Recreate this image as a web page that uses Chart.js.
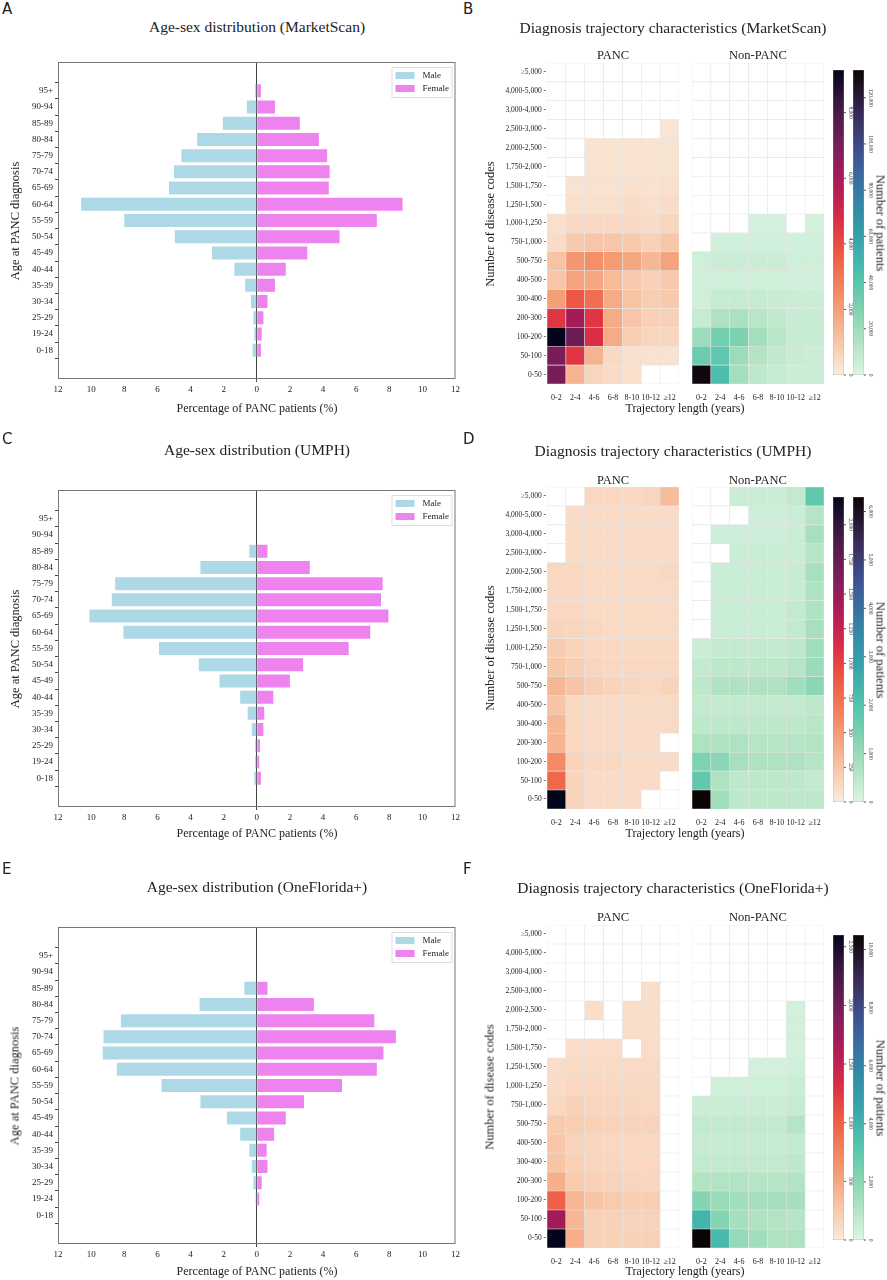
<!DOCTYPE html>
<html><head><meta charset="utf-8">
<script src="https://cdn.jsdelivr.net/npm/chart.js@4"></script>
<style>
body{margin:0;background:#fff;width:887px;height:1280px;position:relative;overflow:hidden;font-family:"Liberation Serif",serif;color:#222}
canvas{position:absolute}
.t{position:absolute;transform:translate(-50%,-50%);white-space:nowrap}
.L{position:absolute;font-family:"DejaVu Sans",sans-serif;font-size:15px}
.rot{transform:translate(-50%,-50%) rotate(-90deg)}
.rot2{transform:translate(-50%,-50%) rotate(90deg)}
</style></head><body>
<script>
// ---------------- DATA ----------------
const ageGroups = ['0-18','19-24','25-29','30-34','35-39','40-44','45-49','50-54','55-59','60-64','65-69','70-74','75-79','80-84','85-89','90-94','95+'];
const msMale   = [0.25,0.15,0.2,0.35,0.7,1.35,2.7,4.95,8.0,10.6,5.3,5.0,4.55,3.6,2.05,0.6,0.1];
const msFemale = [0.25,0.3,0.4,0.65,1.1,1.75,3.05,5.0,7.25,8.8,4.35,4.4,4.25,3.75,2.6,1.1,0.25];
const umMale   = [0.15,0.1,0.1,0.3,0.55,1.0,2.25,3.5,5.9,8.05,10.1,8.75,8.55,3.4,0.45,0,0];
const umFemale = [0.25,0.15,0.2,0.4,0.45,1.0,2.0,2.8,5.55,6.85,7.95,7.5,7.6,3.2,0.65,0,0];
const ofMale   = [0,0.07,0.2,0.3,0.45,1.0,1.8,3.4,5.75,8.45,9.3,9.25,8.2,3.45,0.75,0,0];
const ofFemale = [0,0.15,0.3,0.65,0.6,1.05,1.75,2.85,5.15,7.25,7.65,8.4,7.1,3.45,0.65,0,0];
const pctTicks = [-12,-10,-8,-6,-4,-2,0,2,4,6,8,10,12];

const trajBins = ['0-2','2-4','4-6','6-8','8-10','10-12','≥12'];
const codeBins = ['0-50','50-100','100-200','200-300','300-400','400-500','500-750','750-1,000','1,000-1,250','1,250-1,500','1,500-1,750','1,750-2,000','2,000-2,500','2,500-3,000','3,000-4,000','4,000-5,000','≥5,000'];
const _ = null;
// rows bottom (0-50) to top (>=5000); columns = trajBins
const msPanc = [
 [7000,1500,600,400,300,_,_],[7000,4500,1500,500,300,250,250],[9300,7300,4700,1700,800,600,600],
 [4500,6000,4500,1700,1000,700,700],[2000,3800,3200,1700,1100,800,900],[1000,1900,1800,1300,900,700,900],
 [1100,2200,2400,2100,1800,1400,1900],[400,900,1000,1000,900,700,1000],[300,500,500,500,500,400,600],
 [_,300,300,300,400,300,400],[_,250,250,250,300,250,300],[_,_,200,200,200,200,200],[_,_,200,200,200,200,200],
 [_,_,_,_,_,_,150],[_,_,_,_,_,_,_],[_,_,_,_,_,_,_],[_,_,_,_,_,_,_]];
const msNon = [
 [130000,45000,18000,10000,8000,6000,6000],[35000,38000,20000,13000,9000,7000,6000],[20000,32000,30000,18000,12000,8000,8000],
 [8000,15000,16000,12000,9000,7000,7000],[5000,8000,8000,8000,7000,6000,6000],[4000,5000,5000,5000,5000,4000,4000],
 [5000,6000,6000,6000,6000,5000,5000],[_,4000,4000,4000,4000,4000,4000],[_,_,_,3000,3000,_,3000],
 [_,_,_,_,_,_,_],[_,_,_,_,_,_,_],[_,_,_,_,_,_,_],[_,_,_,_,_,_,_],[_,_,_,_,_,_,_],[_,_,_,_,_,_,_],[_,_,_,_,_,_,_],[_,_,_,_,_,_,_]];
const umPanc = [
 [2200,150,100,100,100,_,_],[800,150,100,100,100,100,_],[600,150,120,120,100,100,100],
 [350,130,100,100,100,100,_],[330,120,100,100,100,100,110],[250,120,100,100,100,100,110],
 [330,250,180,150,140,130,150],[230,180,140,130,130,120,130],[200,160,130,130,120,120,120],
 [150,140,120,110,110,110,110],[130,130,110,110,110,110,110],[120,120,110,100,100,100,110],
 [130,130,110,110,110,110,120],[_,110,100,100,100,100,100],[_,110,100,100,100,100,100],
 [_,100,100,100,100,100,100],[_,_,130,130,130,140,300]];
const umNon = [
 [6300,900,500,500,500,500,500],[1800,700,500,500,500,500,400],[1400,1200,800,700,700,700,600],
 [700,700,700,600,600,600,650],[500,500,500,500,500,500,550],[400,400,400,400,400,400,500],
 [500,700,700,700,700,900,1200],[400,500,500,500,500,600,1000],[300,400,400,400,400,500,900],
 [_,300,300,300,300,400,800],[_,300,300,300,300,400,700],[_,300,300,300,300,350,700],
 [_,300,300,300,300,350,800],[_,_,300,300,300,300,600],[_,250,250,250,250,300,800],
 [_,_,_,250,250,300,600],[_,_,300,300,300,400,1800]];
const ofPanc = [
 [2600,450,200,200,200,200,_],[1700,400,200,200,180,180,_],[1000,400,300,250,230,220,_],
 [450,250,200,180,170,160,_],[300,200,170,160,150,150,_],[280,180,160,150,150,140,_],
 [250,220,200,190,180,180,_],[150,200,170,160,160,150,_],[120,150,150,140,140,140,_],
 [110,130,130,130,130,130,_],[_,110,110,110,_,110,_],[_,_,_,_,100,100,_],[_,_,100,_,100,100,_],
 [_,_,_,_,_,100,_],[_,_,_,_,_,_,_],[_,_,_,_,_,_,_],[_,_,_,_,_,_,_]];
const ofNon = [
 [10500,3800,1800,1500,1200,1200,_],[4000,2200,1400,1200,1100,1000,_],[2200,1700,1500,1400,1400,1400,_],
 [1100,1100,1100,1000,1000,1100,_],[700,700,700,700,700,800,_],[600,600,600,600,600,700,_],
 [700,700,700,700,700,1000,_],[500,500,500,500,500,600,_],[_,400,400,400,400,500,_],
 [_,_,_,300,300,400,_],[_,_,_,_,_,300,_],[_,_,_,_,_,300,_],[_,_,_,_,_,300,_],
 [_,_,_,_,_,_,_],[_,_,_,_,_,_,_],[_,_,_,_,_,_,_],[_,_,_,_,_,_,_]];
const msPancMax=9300, msNonMax=132000, umPancMax=2200, umNonMax=6300, ofPancMax=2600, ofNonMax=10500;
const msPancTicks=[0,2000,4000,6000,8000], msNonTicks=[0,20000,40000,60000,80000,100000,120000];
const umPancTicks=[0,250,500,750,1000,1250,1500,1750,2000], umNonTicks=[0,1000,2000,3000,4000,5000,6000];
const ofPancTicks=[0,500,1000,1500,2000,2500], ofNonTicks=[0,2000,4000,6000,8000,10000];

// ---------------- HELPERS ----------------
Chart.defaults.animation=false;
Chart.defaults.font.family='"Liberation Serif", serif';
Chart.defaults.color='#222';
const rocketR=[[0,'#faebdd'],[0.12,'#f7c2a2'],[0.25,'#f4926a'],[0.4,'#ed5a43'],[0.5,'#de2f44'],[0.62,'#b11a56'],[0.75,'#7a1d5a'],[0.88,'#3f1b46'],[1,'#03051a']];
const makoR=[[0,'#def5e5'],[0.1,'#b4e4c3'],[0.22,'#7ed2b0'],[0.33,'#4dc1ad'],[0.45,'#35a2ab'],[0.58,'#3581a4'],[0.72,'#3e5597'],[0.85,'#3a2b5a'],[1,'#0b0405']];
function hex(h){return [1,3,5].map(i=>parseInt(h.substr(i,2),16));}
function cmap(stops,t){t=Math.max(0,Math.min(1,t));for(let i=1;i<stops.length;i++){if(t<=stops[i][0]){const a=stops[i-1],b=stops[i];const f=(t-a[0])/(b[0]-a[0]);const ca=hex(a[1]),cb=hex(b[1]);return 'rgb('+ca.map((v,k)=>Math.round(v+(cb[k]-v)*f)).join(',')+')';}}return stops[stops.length-1][1];}
function mkCanvas(l,t,w,h){const c=document.createElement('canvas');c.width=w;c.height=h;c.style.left=l+'px';c.style.top=t+'px';c.style.width=w+'px';c.style.height=h+'px';document.body.appendChild(c);return c;}
function txt(s,x,y,size,cls){const d=document.createElement('div');d.className='t'+(cls?' '+cls:'');d.textContent=s;d.style.left=x+'px';d.style.top=y+'px';d.style.fontSize=size+'px';document.body.appendChild(d);}
function letter(s,x,y){const d=document.createElement('div');d.className='L';d.textContent=s;d.style.left=x+'px';d.style.top=y+'px';document.body.appendChild(d);}

function pyramid(areaTop,areaBottom,male,female){
  const c=mkCanvas(0,areaTop-10,462,areaBottom-areaTop+10+22);
  new Chart(c,{type:'bar',
    data:{datasets:[
      {label:'Male',data:male.map((v,i)=>({x:-v,y:i})),backgroundColor:'#add8e6'},
      {label:'Female',data:female.map((v,i)=>({x:v,y:i})),backgroundColor:'#ee82ee'}]},
    options:{indexAxis:'y',responsive:false,devicePixelRatio:1,
      layout:{padding:{top:10,right:6,left:0,bottom:0}},
      datasets:{bar:{barPercentage:0.8,categoryPercentage:1,grouped:false}},
      plugins:{legend:{display:false},tooltip:{enabled:false}},
      scales:{
        x:{type:'linear',min:-12,max:12,afterBuildTicks:s=>{s.ticks=pctTicks.map(v=>({value:v}));},
           afterFit:s=>{s.height=22;},
           ticks:{callback:v=>Math.abs(v),font:{size:9},padding:2,maxRotation:0},
           grid:{drawOnChartArea:true,drawTicks:true,tickLength:3,color:ctx=>ctx.tick&&ctx.tick.value===0?'#444':'rgba(0,0,0,0)',lineWidth:1},
           border:{display:false}},
        y:{type:'linear',min:-1.2,max:17.2,afterBuildTicks:s=>{s.ticks=ageGroups.map((a,i)=>({value:i}));},
           afterFit:s=>{s.width=58;},
           ticks:{callback:v=>ageGroups[v],font:{size:9},padding:2},
           grid:{drawOnChartArea:false,tickLength:3,color:'#444'},border:{display:false}}}},
    plugins:[{id:'frame',afterDraw(ch){const a=ch.chartArea,x=ch.ctx;x.save();x.strokeStyle='#777';x.lineWidth=1;x.strokeRect(a.left+0.5,a.top+0.5,a.width-1,a.height-1);
      const lx=a.right-64,ly=a.top+5;x.fillStyle='#fff';x.strokeStyle='#ddd';x.fillRect(lx,ly,60,30);x.strokeRect(lx+0.5,ly+0.5,60,30);
      x.fillStyle='#add8e6';x.fillRect(lx+4,ly+5,19,7);x.fillStyle='#ee82ee';x.fillRect(lx+4,ly+18,19,7);
      x.fillStyle='#222';x.font='9px "Liberation Serif"';x.textBaseline='middle';x.fillText('Male',lx+31,ly+9);x.fillText('Female',lx+31,ly+22);x.restore();}}]
  });
}

function heat(left,width,areaTop,areaBottom,mat,max,stops,showY){
  const yw=showY?87:0;
  const c=mkCanvas(left-yw,areaTop-8,width+yw+1,areaBottom-areaTop+8+22);
  new Chart(c,{type:'bar',
    data:{labels:trajBins,datasets:mat.map((row,r)=>({label:codeBins[r],data:trajBins.map(()=>1),
      backgroundColor:row.map(v=>v==null?'#ffffff':cmap(stops,v/max)),borderColor:'#e4e4e4',borderWidth:0.6,borderSkipped:false}))},
    options:{responsive:false,devicePixelRatio:1,layout:{padding:{top:8,right:1,left:0,bottom:0}},
      datasets:{bar:{barPercentage:1,categoryPercentage:1}},
      plugins:{legend:{display:false},tooltip:{enabled:false}},
      scales:{
        x:{stacked:true,afterFit:s=>{s.height=22;},ticks:{font:{size:8},padding:1,maxRotation:0,autoSkip:false},grid:{display:false},border:{display:false}},
        y:{stacked:true,type:'linear',min:0,max:17,display:showY,afterBuildTicks:s=>{s.ticks=codeBins.map((b,i)=>({value:i+0.5}));},
           afterFit:s=>{s.width=yw;},ticks:{callback:v=>codeBins[Math.round(v-0.5)]+' -',font:{size:7.5},padding:1},
           grid:{drawOnChartArea:false,drawTicks:false},border:{display:false}}}}
  });
}

function cbar(left,top,bottom,max,ticks,stops){
  const c=mkCanvas(left,top-5,32,bottom-top+10);
  new Chart(c,{type:'bar',data:{labels:['a'],datasets:[{data:[max],borderColor:'#999',borderWidth:0.6,borderSkipped:false,
     backgroundColor:ctx=>{const a=ctx.chart.chartArea;if(!a)return '#fff';const g=ctx.chart.ctx.createLinearGradient(0,a.bottom,0,a.top);for(let i=0;i<=20;i++)g.addColorStop(i/20,cmap(stops,i/20));return g;}}]},
    options:{responsive:false,devicePixelRatio:1,layout:{padding:{top:5,bottom:5,left:0,right:21}},
      datasets:{bar:{barPercentage:1,categoryPercentage:1}},
      plugins:{legend:{display:false},tooltip:{enabled:false}},
      scales:{x:{display:false},y:{display:false,min:0,max:max}}},
    plugins:[{id:'cbt',afterDraw(ch){const x=ch.ctx,a=ch.chartArea,s=ch.scales.y;x.save();x.strokeStyle='#555';x.fillStyle='#333';x.font='5.5px "Liberation Serif"';x.textAlign='center';x.textBaseline='middle';
      ticks.forEach(v=>{const py=s.getPixelForValue(v);x.beginPath();x.moveTo(a.right,py);x.lineTo(a.right+2,py);x.stroke();
        x.save();x.translate(a.right+6,py);x.rotate(Math.PI/2);x.fillText(v.toLocaleString('en-US'),0,0);x.restore();});x.restore();}}]
  });
}

// ---------------- PANELS ----------------
const rows=[
 {y0:0,title:'MarketScan',pyT:62,pyB:379,hT:63,hB:384,cT:70,cB:375,m:msMale,f:msFemale,p:msPanc,n:msNon,pm:msPancMax,nm:msNonMax,pt:msPancTicks,nt:msNonTicks,L:['A','B'],tt:27,st:55,xl:408},
 {y0:430,title:'UMPH',pyT:490,pyB:807,hT:487,hB:809,cT:497,cB:802,m:umMale,f:umFemale,p:umPanc,n:umNon,pm:umPancMax,nm:umNonMax,pt:umPancTicks,nt:umNonTicks,L:['C','D'],tt:450,st:480,xl:833},
 {y0:860,title:'OneFlorida+',pyT:927,pyB:1244,hT:925,hB:1248,cT:935,cB:1240,m:ofMale,f:ofFemale,p:ofPanc,n:ofNon,pm:ofPancMax,nm:ofNonMax,pt:ofPancTicks,nt:ofNonTicks,L:['E','F'],tt:887,st:917,xl:1271}
];
rows.forEach(r=>{
  letter(r.L[0],2,r.y0);letter(r.L[1],463,r.y0);
  pyramid(r.pyT,r.pyB,r.m,r.f);
  txt('Age-sex distribution ('+r.title+')',257,r.tt,15.5);
  txt('Percentage of PANC patients (%)',257,r.xl,12);
  txt('Age at PANC diagnosis',15,(r.pyT+r.pyB)/2,12.5,'rot');
  heat(547,132,r.hT,r.hB,r.p,r.pm,rocketR,true);
  heat(692,132,r.hT,r.hB,r.n,r.nm,makoR,false);
  cbar(833,r.cT,r.cB,r.pm,r.pt,rocketR);
  cbar(853,r.cT,r.cB,r.nm,r.nt,makoR);
  txt('Diagnosis trajectory characteristics ('+r.title+')',673,r.tt+1,15.5);
  txt('PANC',613,r.st,12.5);txt('Non-PANC',758,r.st,12.5);
  txt('Trajectory length (years)',685,r.xl,12);
  txt('Number of disease codes',490,(r.hT+r.hB)/2,12.5,'rot');
  txt('Number of patients',880,(r.cT+r.cB)/2,12.5,'rot2');
});
</script>
</body></html>
